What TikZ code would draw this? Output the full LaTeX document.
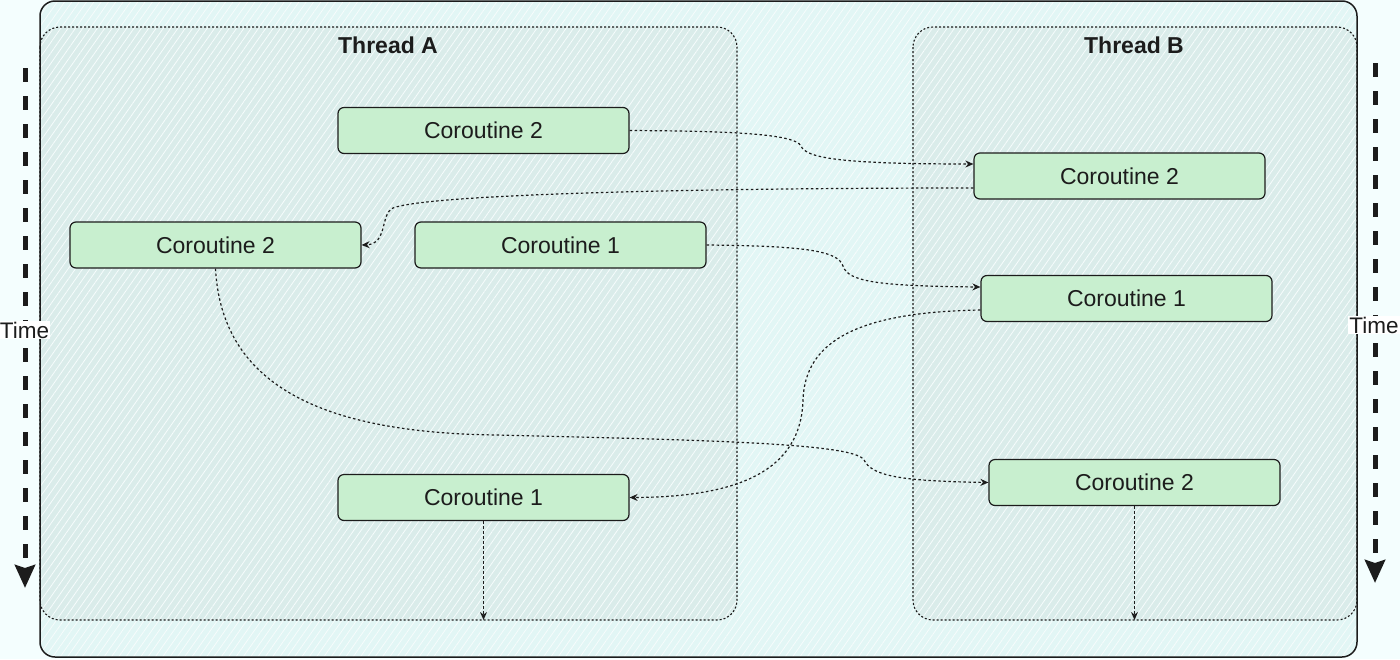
\documentclass[tikz,border=0pt]{standalone}
\usepackage{fontspec}
\setmainfont{Liberation Sans}
\usetikzlibrary{arrows.meta,patterns.meta}
\definecolor{pagebg}{HTML}{F4FEFE}
\definecolor{outerbg}{HTML}{E2F6F5}
\definecolor{threadbg}{HTML}{DAECEA}
\definecolor{boxfill}{HTML}{C8EFCF}
\definecolor{ink}{HTML}{1C1C1C}
\tikzset{
  hatch/.style={postaction={pattern={Lines[angle=55,distance=6pt,line width=0.8pt]}, pattern color=white!70!outerbg}},
  coro/.style={draw=ink, line width=1.2pt, fill=boxfill, rounded corners=6pt, minimum width=291pt, minimum height=46pt, inner sep=0pt, font=\fontsize{23}{27}\selectfont, text=ink},
  threadbox/.style={fill=threadbg, rounded corners=20pt},
  outerbox/.style={fill=outerbg, rounded corners=15pt},
  threadline/.style={draw=ink, line width=1.1pt, dash pattern=on 2pt off 2pt, rounded corners=20pt},
  outerline/.style={draw=ink, line width=1.5pt, rounded corners=15pt},
  flow/.style={draw=ink, line width=1.2pt, dash pattern=on 2.5pt off 2.5pt, -{Stealth[length=8pt,width=7pt]}},
  timearrow/.style={draw=ink, line width=5pt, dash pattern=on 14pt off 14pt, -{Stealth[length=23pt,width=20pt,inset=3pt]}},
  timelabel/.style={fill=white, inner sep=1pt, font=\fontsize{22.5}{27}\selectfont, text=ink},
  titlelabel/.style={font=\bfseries\fontsize{23}{27}\selectfont, text=ink}
}
\begin{document}
\begin{tikzpicture}[x=1pt,y=-1pt]
\fill[pagebg] (0,0) rectangle (1400,659);
\useasboundingbox (0,0) rectangle (1400,659);
% containers
\path[outerbox, hatch] (40,1) rectangle (1357,657);
\path[threadbox, hatch] (40,27) rectangle (737,620);
\path[threadbox, hatch] (913,27) rectangle (1357,620);
\path[outerline] (40,1) rectangle (1357,657);
\path[threadline] (40,27) rectangle (737,620);
\path[threadline] (913,27) rectangle (1357,620);
\node[titlelabel] (ta) at (388,45) {Thread A};
\node[titlelabel] (tb) at (1134,45) {Thread B};
% coroutine boxes
\node[coro] (a2t) at (483.5,130.5) {Coroutine 2};
\node[coro] (a2m) at (215.5,245) {Coroutine 2};
\node[coro] (a1m) at (560.5,245) {Coroutine 1};
\node[coro] (a1b) at (483.5,497.5) {Coroutine 1};
\node[coro] (b2t) at (1119.5,176) {Coroutine 2};
\node[coro] (b1) at (1126.5,298.5) {Coroutine 1};
\node[coro] (b2b) at (1134.5,482.5) {Coroutine 2};
% free ends at thread bottoms
\coordinate (aend) at (483.5,620);
\coordinate (bend) at (1134.5,620);
% connectors
\draw[flow] (a2t.east) .. controls (720,131) and (795,133) .. (801,146)
  .. controls (806,158) and (840,164) .. ([yshift=12pt]b2t.west);
\draw[flow] ([yshift=-12pt]b2t.west) .. controls (700,188) and (430,194) .. (393,208)
  .. controls (380,214) and (388,244) .. (a2m.east);
\draw[flow] (a1m.east) .. controls (800,246) and (838,250) .. (843,266)
  .. controls (848,282) and (880,286) .. ([yshift=11.5pt]b1.west);
\draw[flow] ([yshift=-11.5pt]b1.west) .. controls (860,312) and (805,340) .. (803,400)
  .. controls (801,470) and (740,497) .. (a1b.east);
\draw[flow] (a2m.south) .. controls (222,390) and (330,433) .. (497,435)
  .. controls (700,440) and (855,443) .. (864,460)
  .. controls (872,476) and (900,481) .. (b2b.west);
\draw[flow] (a1b.south) -- (aend);
\draw[flow] (b2b.south) -- (bend);
% time arrows
\coordinate (lt0) at (25,68);
\coordinate (lt1) at (25,588);
\coordinate (rt0) at (1375,63);
\coordinate (rt1) at (1375,583);
\draw[timearrow] (lt0) -- (lt1);
\draw[timearrow] (rt0) -- (rt1);
\node[timelabel] (tl) at (24.5,330) {Time};
\node[timelabel] (tr) at (1374,325) {Time};
\end{tikzpicture}
\end{document}
